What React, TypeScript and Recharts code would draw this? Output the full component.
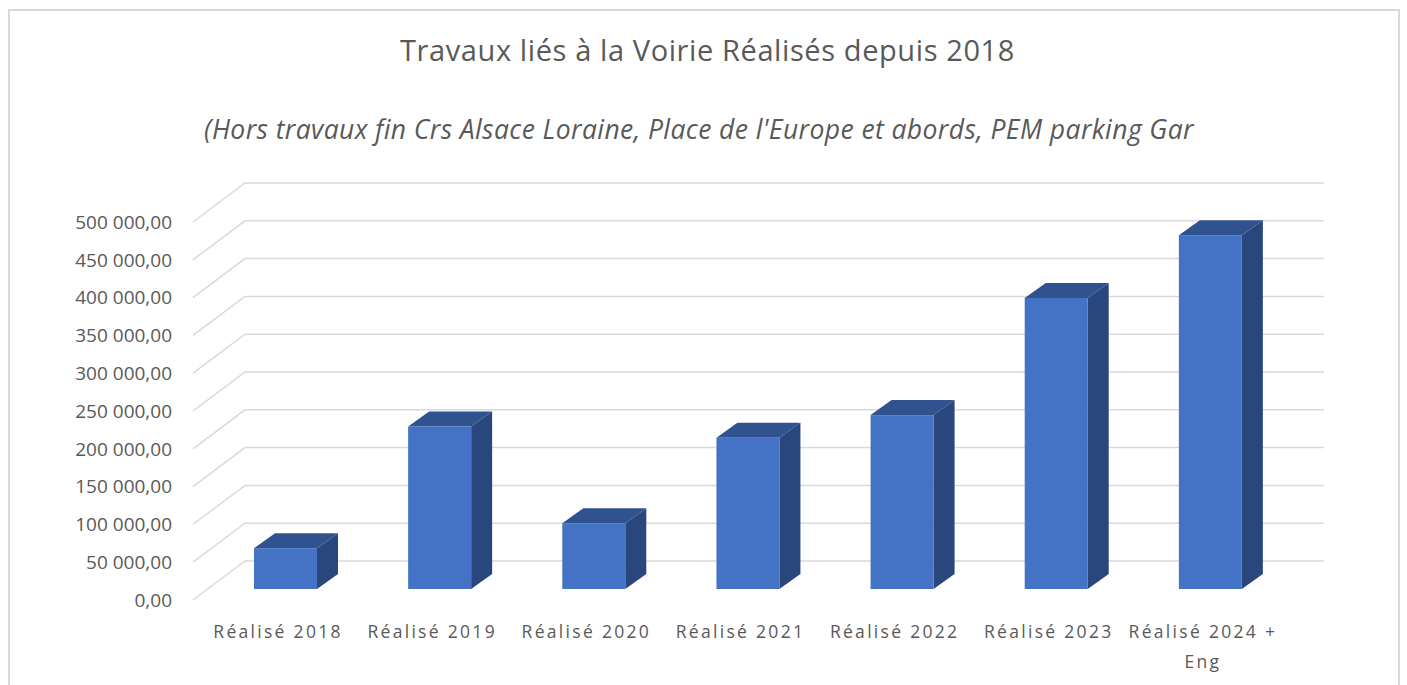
import { Bar, BarChart, CartesianGrid, XAxis, YAxis } from 'recharts'

const categories = ['Réalisé 2018', 'Réalisé 2019', 'Réalisé 2020', 'Réalisé 2021', 'Réalisé 2022', 'Réalisé 2023', 'Réalisé 2024 + Eng']
const amounts = [54000, 215000, 87000, 200000, 230000, 385000, 468000]
const yTicks = [0, 50000, 100000, 150000, 200000, 250000, 300000, 350000, 400000, 450000, 500000]

const title = 'Travaux liés à la Voirie Réalisés depuis 2018'
const subtitle = "(Hors travaux fin Crs Alsace Loraine, Place de l'Europe et abords, PEM parking Gar"

const data = categories.map((name, i) => ({ name, value: amounts[i] }))

// 3D offsets (bar depth, wall depth, floor front)
const BAR_DX = 21
const BAR_DY = -15
const WALL_DX = 37
const WALL_DY = -28
const FRONT_DX = -15
const FRONT_DY = 11

const font = '"Open Sans", sans-serif'
const textColor = '#595959'

function fmt(v: number) {
  return String(v).replace(/\B(?=(\d{3})+(?!\d))/g, ' ') + ',00'
}

function wrap(label: string, max = 14) {
  const lines: string[] = []
  let cur = ''
  for (const w of label.split(' ')) {
    const next = cur ? cur + ' ' + w : w
    if (next.length > max && cur) {
      lines.push(cur)
      cur = w
    } else cur = next
  }
  if (cur) lines.push(cur)
  return lines
}

function Box3D(props: any) {
  const { x, y, width: w, height: h } = props
  if (h == null || w == null) return null
  return (
    <g>
      <polygon
        points={`${x + w},${y} ${x + w + BAR_DX},${y + BAR_DY} ${x + w + BAR_DX},${y + h + BAR_DY} ${x + w},${y + h}`}
        fill="#29477d"
      />
      <polygon
        points={`${x},${y} ${x + BAR_DX},${y + BAR_DY} ${x + w + BAR_DX},${y + BAR_DY} ${x + w},${y}`}
        fill="#30528f"
      />
      <rect x={x} y={y} width={w} height={h} fill="#4472c4" />
    </g>
  )
}

function GridLine(props: any) {
  const { x1, x2, y1 } = props
  const d = `M${x1 + FRONT_DX},${y1 + FRONT_DY} L${x1 + WALL_DX},${y1 + WALL_DY} L${x2 + WALL_DX},${y1 + WALL_DY}`
  return <path key={props.key ?? `g-${y1}`} d={d} stroke="#d9d9d9" strokeWidth={1.5} fill="none" />
}

function YTick({ x, y, payload }: any) {
  return (
    <text x={x - 36} y={y + FRONT_DY} dy="0.36em" textAnchor="end" fill={textColor} fontSize={19} fontFamily={font}>
      {fmt(payload.value)}
    </text>
  )
}

function XTick({ x, y, payload }: any) {
  const lines = wrap(payload.value)
  return (
    <text x={x - 7} y={y + 49} textAnchor="middle" fill={textColor} fontSize={17.5} fontFamily={font} letterSpacing={2.3}>
      {lines.map((l, i) => (
        <tspan key={i} x={x - 7} dy={i === 0 ? 0 : 30}>
          {l}
        </tspan>
      ))}
    </text>
  )
}

export default function App() {
  return (
    <div style={{ position: 'absolute', left: 0, top: 0, width: 1407, height: 685, background: '#fff', overflow: 'hidden' }}>
      <div style={{ position: 'absolute', left: 8, top: 9, width: 1392, height: 720, border: '2px solid #d9d9d9', boxSizing: 'border-box' }} />
      <div
        style={{ position: 'absolute', left: 0, top: 30, width: 1415, textAlign: 'center', fontFamily: font, fontSize: 29, letterSpacing: 0.6, color: textColor, whiteSpace: 'nowrap' }}
      >
        {title}
      </div>
      <div
        style={{ position: 'absolute', left: 0, top: 111, width: 1398, textAlign: 'center', fontFamily: font, fontSize: 26.5, letterSpacing: 0.4, fontStyle: 'italic', color: textColor, whiteSpace: 'nowrap' }}
      >
        {subtitle}
      </div>
      <div style={{ position: 'absolute', left: 0, top: 0 }}>
        <BarChart width={1407} height={685} data={data} margin={{ top: 211, right: 120, bottom: 36, left: 108 }}>
          <CartesianGrid vertical={false} horizontal={(p: any) => <GridLine {...p} />} />
          <XAxis dataKey="name" height={60} axisLine={false} tickLine={false} tickSize={0} tickMargin={0} interval={0} tick={<XTick />} />
          <YAxis
            width={100}
            domain={[0, 500000]}
            ticks={yTicks}
            axisLine={false}
            tickLine={false}
            tickSize={0}
            tickMargin={0}
            tick={<YTick />}
          />
          <Bar dataKey="value" barSize={63} shape={<Box3D />} isAnimationActive={false} />
        </BarChart>
      </div>
    </div>
  )
}
